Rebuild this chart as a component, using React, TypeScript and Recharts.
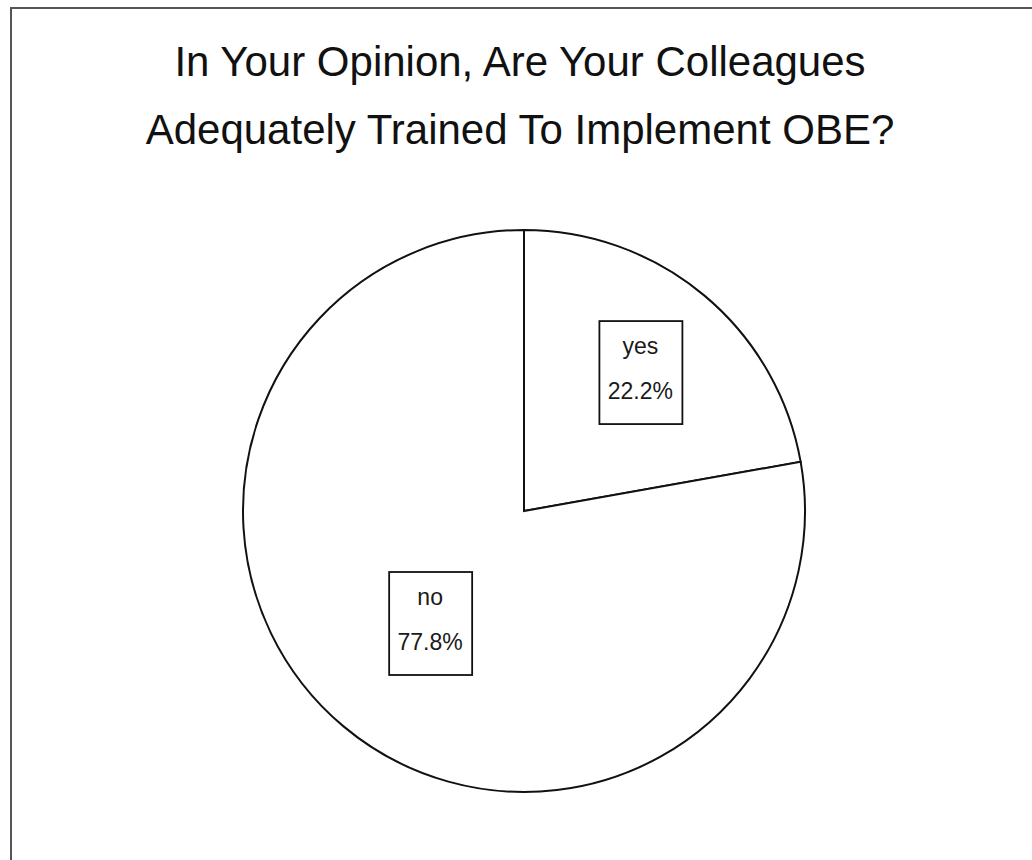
import { PieChart, Pie, Cell } from "recharts";

const answers = ["yes", "no"];
const shares = [22.2, 77.8];
const titleLines = ["In Your Opinion, Are Your Colleagues", "Adequately Trained To Implement OBE?"];

const data = answers.map((name, i) => ({ name, value: shares[i] }));

const RAD = Math.PI / 180;
// how far out each label box sits, as a share of the radius
const labelReach = [0.645, 0.52];

const renderLabel = (props: any) => {
  const { cx, cy, midAngle, outerRadius, index, name, value } = props;
  const r = outerRadius * labelReach[index];
  const x = cx + r * Math.cos(-midAngle * RAD);
  const y = cy + r * Math.sin(-midAngle * RAD);
  return (
    <g>
      <rect x={x - 41} y={y - 51} width={83} height={103} fill="#fff" stroke="#111" strokeWidth={1.8} />
      <text x={x} y={y - 26} textAnchor="middle" dominantBaseline="central" fontSize={23} fill="#1a1a1a" fontFamily="'Liberation Sans', Arial, sans-serif">
        {name}
      </text>
      <text x={x} y={y + 19} textAnchor="middle" dominantBaseline="central" fontSize={23} fill="#1a1a1a" fontFamily="'Liberation Sans', Arial, sans-serif">
        {value.toFixed(1)}%
      </text>
    </g>
  );
};

export default function App() {
  return (
    <div style={{ position: "absolute", left: 0, top: 0, width: 1032, height: 860, background: "#fff", overflow: "hidden" }}>
      <div style={{ position: "absolute", left: 10, top: 7, width: 1060, height: 900, border: "2px solid #555" }} />
      {titleLines.map((t, i) => (
        <div
          key={t}
          style={{
            position: "absolute",
            left: 0,
            width: 1040,
            top: 37 + i * 68,
            textAlign: "center",
            fontFamily: "'Liberation Sans', Arial, sans-serif",
            fontSize: 42,
            lineHeight: "50px",
            color: "#111",
          }}
        >
          {t}
        </div>
      ))}
      <div style={{ position: "absolute", left: 0, top: 0 }}>
        <PieChart width={1032} height={860}>
          <Pie
            data={data}
            dataKey="value"
            nameKey="name"
            cx={519}
            cy={506}
            outerRadius={281}
            startAngle={90}
            endAngle={-270}
            stroke="#111"
            strokeWidth={2}
            label={renderLabel}
            labelLine={false}
            isAnimationActive={false}
          >
            {data.map((d) => (
              <Cell key={d.name} fill="#fff" />
            ))}
          </Pie>
        </PieChart>
      </div>
    </div>
  );
}
